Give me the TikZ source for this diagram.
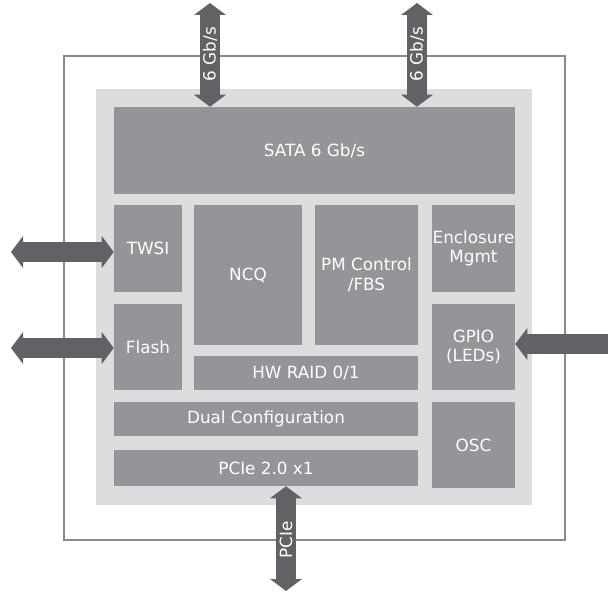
\documentclass[tikz,border=0pt]{standalone}
\usepackage{fontspec}
\setmainfont{DejaVu Sans}
\usetikzlibrary{arrows.meta,fit}
\definecolor{arrgray}{HTML}{616265}
\definecolor{blkgray}{HTML}{939598}
\definecolor{lightgray}{HTML}{DCDDDE}
\definecolor{linegray}{HTML}{8A8A8A}
\begin{document}
\begin{tikzpicture}[x=0.75pt,y=-0.75pt,
  blk/.style={fill=blkgray,draw=none,inner sep=0pt,text=white,align=center,font=\fontsize{12.6}{14.5}\selectfont},
  bigarrow/.style={draw=arrgray,line width=15pt},
  lbl/.style={text=white,font=\fontsize{12.6}{15}\selectfont,rotate=90,inner sep=0pt}]
\useasboundingbox (0,0) rectangle (608,592);
\node[draw=linegray,line width=1.2pt,inner sep=0pt,fit={(64,56) (565,540)}] (outer) {};
\node[fill=lightgray,inner sep=0pt,fit={(96,89) (532,505)}] (chip) {};
\node[blk,fit={(114,107) (515,194)}] (sata) {};
\node[blk] at (sata.center) {SATA 6 Gb/s};
\node[blk,fit={(114,205) (182,292)}] (twsi) {};
\node[blk] at (twsi.center) {TWSI};
\node[blk,fit={(114,304) (182,390)}] (flash) {};
\node[blk] at (flash.center) {Flash};
\node[blk,fit={(194,205) (302,345)}] (ncq) {};
\node[blk] at (ncq.center) {NCQ};
\node[blk,fit={(315,205) (418,345)}] (pm) {};
\node[blk] at (pm.center) {PM Control\\/FBS};
\node[blk,fit={(194,356) (418,390)}] (raid) {};
\node[blk] at (raid.center) {HW RAID 0/1};
\node[blk,fit={(432,205) (515,292)}] (encl) {};
\node[blk] at (encl.center) {Enclosure\\Mgmt};
\node[blk,fit={(432,304) (515,390)}] (gpio) {};
\node[blk] at (gpio.center) {GPIO\\(LEDs)};
\node[blk,fit={(114,402) (418,436)}] (dual) {};
\node[blk] at (dual.center) {Dual Configuration};
\node[blk,fit={(114,450) (418,486)}] (pcie) {};
\node[blk] at (pcie.center) {PCIe 2.0 x1};
\node[blk,fit={(432,402) (515,488)}] (osc) {};
\node[blk] at (osc.center) {OSC};
% arrows
\coordinate (t1) at (210,3);
\coordinate (t2) at (417,3);
\coordinate (l1) at (11,252);
\coordinate (l2) at (11,348);
\coordinate (r1) at (612,344);
\coordinate (b1) at (286,591);
\draw[bigarrow,{Triangle[width=23.5pt,length=9pt]}-{Triangle[width=23.5pt,length=9pt]}] (t1) -- (t1 |- sata.north);
\node[lbl] at (210,54) {6 Gb/s};
\draw[bigarrow,{Triangle[width=23.5pt,length=9pt]}-{Triangle[width=23.5pt,length=9pt]}] (t2) -- (t2 |- sata.north);
\node[lbl] at (417,54) {6 Gb/s};
\draw[bigarrow,{Triangle[width=23.5pt,length=9pt]}-{Triangle[width=23.5pt,length=9pt]}] (l1) -- (l1 -| twsi.west);
\draw[bigarrow,{Triangle[width=23.5pt,length=9pt]}-{Triangle[width=23.5pt,length=9pt]}] (l2) -- (l2 -| flash.west);
\draw[bigarrow,-{Triangle[width=23.5pt,length=9pt]}] (r1) -- (r1 -| gpio.east);
\draw[bigarrow,{Triangle[width=23.5pt,length=9pt]}-{Triangle[width=23.5pt,length=9pt]}] (b1) -- (b1 |- pcie.south);
\node[lbl] at (286,540) {PCIe};
\end{tikzpicture}
\end{document}
